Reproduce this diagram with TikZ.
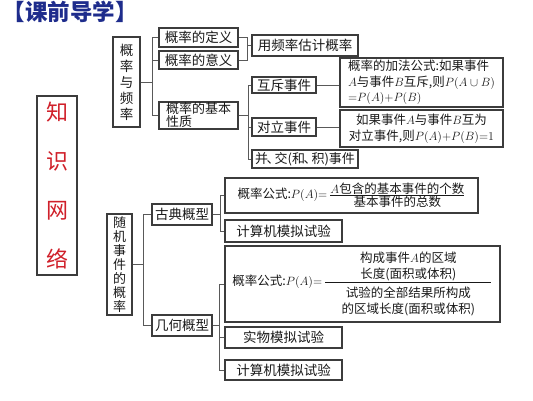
\documentclass[tikz,border=0pt]{standalone}
\usepackage{amsmath}
\usepackage{fontspec}
\newfontfamily\cjk{Noto Sans CJK SC}
\usepackage{tikz}

\definecolor{boxgray}{HTML}{3C3C3C}
\definecolor{netred}{HTML}{D0202A}
\definecolor{titleblue}{HTML}{1E2C8C}

\newcommand{\dun}{\kern-1.5pt、\kern-5pt}

\begin{document}
\begin{tikzpicture}[x=1pt,y=-1pt,
    box/.style={draw=boxgray, line width=1.1pt, inner sep=0pt, align=center,
      text=black!90, font=\cjk\fontsize{13.5}{15}\selectfont},
    rulebox/.style={box, font=\cjk\fontsize{12.5}{15.5}\selectfont},
    link/.style={draw=boxgray!85, line width=0.8pt}]

  \useasboundingbox (0,0) rectangle (533,400);

  \node[anchor=west, text=titleblue, font=\cjk\bfseries\fontsize{22.5}{24}\selectfont]
    (title) at (-1,12) {【课前导学】};

  \node[box, minimum width=40pt, minimum height=179pt, text=netred,
    font=\cjk\fontsize{22}{49}\selectfont] (net) at (57,185.5) {知\\识\\网\\络};



  \node[box, minimum width=27pt, minimum height=90pt,
    font=\cjk\fontsize{13.5}{16}\selectfont] (freq) at (126.5,82) {概\\率\\与\\频\\率};

  \node[box, minimum width=79pt, minimum height=19pt] (def) at (198.5,37.5) {概率的定义};
  \node[box, minimum width=79pt, minimum height=18pt] (mean) at (198.5,60) {概率的意义};
  \node[box, minimum width=79pt, minimum height=27pt, align=left,
    font=\cjk\fontsize{13}{13}\selectfont] (prop) at (198.5,115.5) {概率的基本\\性质};

  \node[box, minimum width=106pt, minimum height=21pt] (est) at (305,45.5) {用频率估计概率};

  \node[box, minimum width=64pt, minimum height=16pt] (mutex) at (284,85) {互斥事件};
  \node[box, minimum width=64pt, minimum height=18pt] (oppo) at (284,127) {对立事件};
  \node[box, minimum width=106pt, minimum height=18pt,
    font=\cjk\fontsize{13}{15}\selectfont] (union) at (305,159) {并\dun 交(和\dun 积)事件};

  \node[rulebox, minimum width=163pt, minimum height=49pt, align=left] (addrule) at (421.5,82.5)
    {概率的加法公式:如果事件\\$A$与事件$B$互斥,则$P(A\cup B)$\\${=}P(A){+}P(B)$};
  \node[rulebox, minimum width=163pt, minimum height=37pt] (opporule) at (421.5,128.5)
    {如果事件$A$与事件$B$互为\\对立事件,则$P(A){+}P(B){=}1$};

  \draw[link] (freq.east) -- ++(12,0) |- (def.west);
  \draw[link] (freq.east) -- ++(12,0) |- (mean.west);
  \draw[link] (freq.east) -- ++(12,0) |- (prop.west);

  \draw[link] (def.east) -- ++(9,0) |- (est.west);
  \draw[link] (mean.east) -- ++(9,0) |- (est.west);

  \draw[link] (prop.east) -- ++(10,0) |- (mutex.west);
  \draw[link] (prop.east) -- ++(10,0) |- (oppo.west);
  \draw[link] (prop.east) -- ++(10,0) |- (union.west);

  \draw[link] (mutex.east) -- (mutex.east -| addrule.west);
  \draw[link] (oppo.east) -- (oppo.east -| opporule.west);



  \node[box, minimum width=25pt, minimum height=101pt,
    font=\cjk\fontsize{13}{14}\selectfont] (rand) at (119.5,264.5) {随\\机\\事\\件\\的\\概\\率};

  \node[box, minimum width=60pt, minimum height=21pt] (classic) at (182,214.5) {古典概型};
  \node[box, minimum width=60pt, minimum height=21pt] (geom) at (182,325.5) {几何概型};

  \node[rulebox, minimum width=253pt, minimum height=35pt] (classicf) at (351.5,195.5)
    {概率公式:$P(A){=}\,\frac{\mbox{$A$包含的基本事件的个数}}{\mbox{基本事件的总数}}$};
  \node[box, minimum width=117pt, minimum height=22pt] (simA) at (283.5,231) {计算机模拟试验};

  \node[rulebox, minimum width=275pt, minimum height=76pt] (geomf) at (362.5,284)
    {概率公式:$P(A){=}\,\dfrac{\parbox{166pt}{\centering\baselineskip=16pt
      构成事件$A$的区域\\长度(面积或体积)}}{\parbox{166pt}{\centering\baselineskip=16pt
      \vspace{3pt}试验的全部结果所构成\\的区域长度(面积或体积)}}$};
  \node[box, minimum width=117pt, minimum height=21pt] (real) at (283.5,337.5) {实物模拟试验};
  \node[box, minimum width=117pt, minimum height=20pt] (simB) at (283.5,370) {计算机模拟试验};

  \draw[link] (rand.east) -- ++(11,0) |- (classic.west);
  \draw[link] (rand.east) -- ++(11,0) |- (geom.west);

  \draw[link] (classic.east) -- ++(8,0) |- (classicf.west);
  \draw[link] (classic.east) -- ++(8,0) |- (simA.west);

  \draw[link] (geom.east) -- ++(7,0) |- (geomf.west);
  \draw[link] (geom.east) -- ++(7,0) |- (real.west);
  \draw[link] (geom.east) -- ++(7,0) |- (simB.west);

\end{tikzpicture}
\end{document}
